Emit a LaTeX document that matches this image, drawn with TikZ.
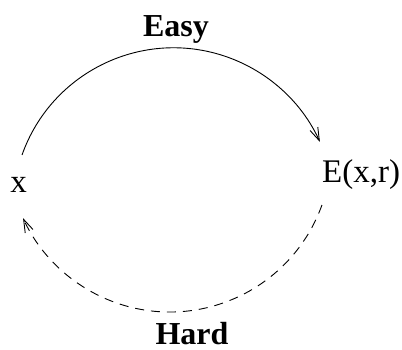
\documentclass[tikz,border=0pt]{standalone}
\usepackage{fontspec}
\setmainfont{Liberation Serif}
\usetikzlibrary{arrows.meta,calc}
\begin{document}
\begin{tikzpicture}[x=1pt,y=1pt,
  lbl/.style={inner sep=0pt,anchor=base,font=\fontsize{33}{38}\selectfont},
  blbl/.style={lbl,font=\fontsize{32}{38}\selectfont\bfseries},
  conn/.style={line width=0.9pt,-{Straight Barb[length=13pt,width=8.5pt,line width=0.9pt]}},
  dconn/.style={conn,dash pattern=on 9pt off 7pt}]
\useasboundingbox (0,0) rectangle (402,350);
\node[blbl] (easy) at (176,313) {Easy};
\node[blbl] (hard) at (192,5.5) {Hard};
\node[lbl] (x) at (18.5,157) {x};
\node[lbl,anchor=base west] (e) at (322,167) {E(x,r)};
\coordinate (s1) at ($(173.6,141.4)+(160.5:160.8)$);
\coordinate (s2) at ($(169.8,199.7)+(-19.8:161.7)$);
\draw[conn] (s1) arc[start angle=160.5,end angle=24.5,radius=160.8];
\draw[dconn] (s2) arc[start angle=-19.8,end angle=-155.2,radius=161.7];
\end{tikzpicture}
\end{document}
